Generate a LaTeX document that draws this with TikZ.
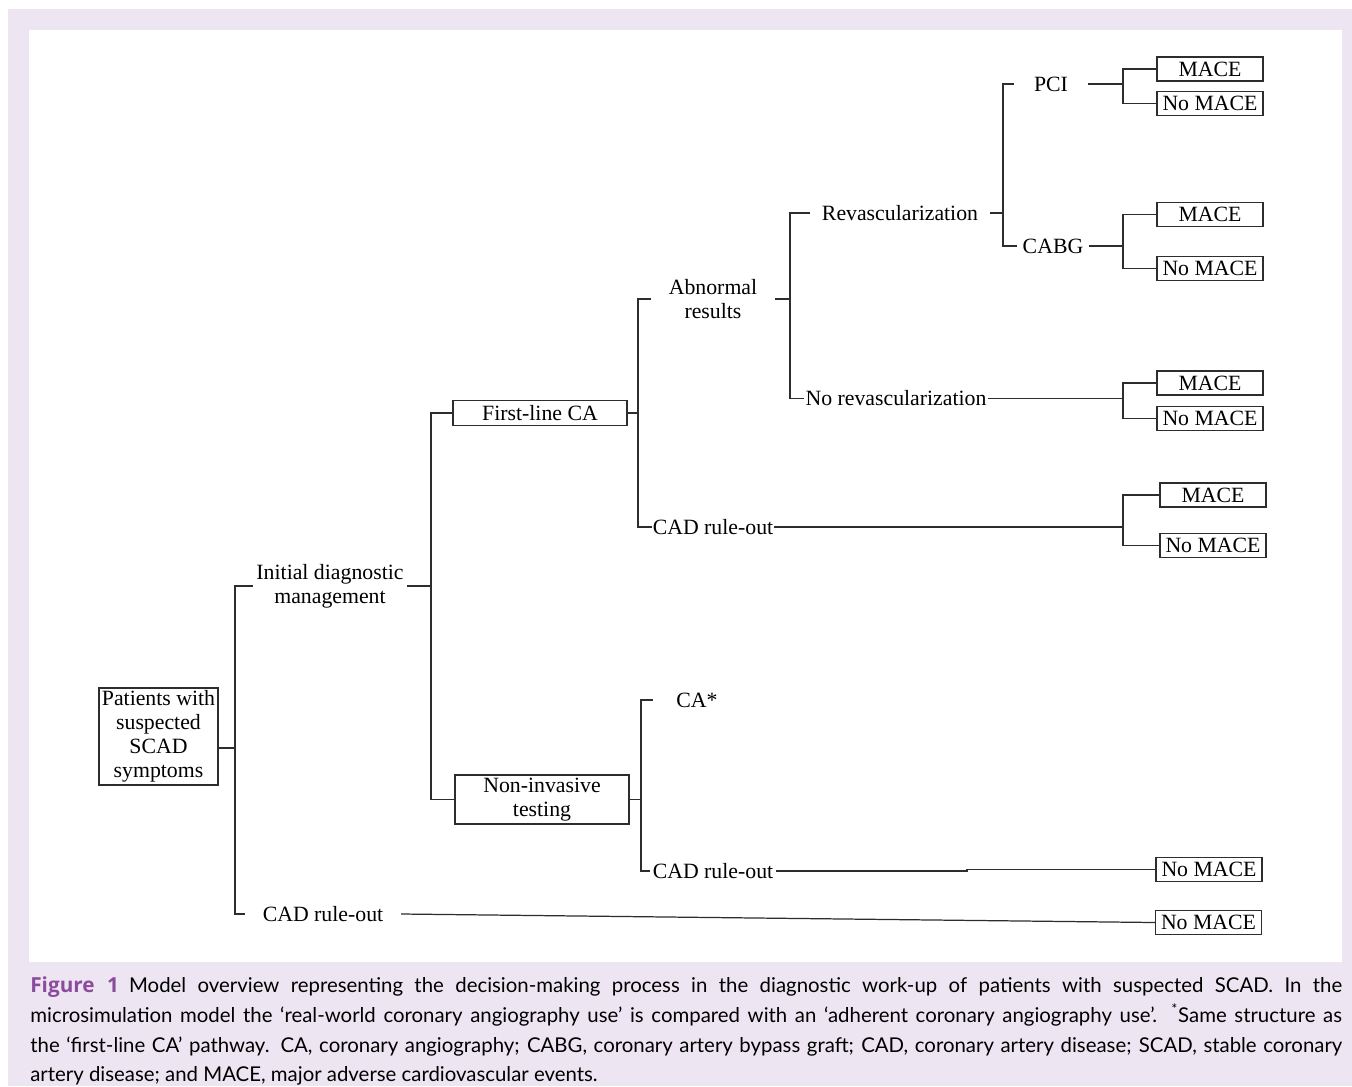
\documentclass[tikz,border=0pt]{standalone}
\usepackage{fontspec}
\setmainfont{Liberation Serif}
\newfontfamily\capfont{Lato}
\newfontfamily\capboldfont{Open Sans}
\definecolor{capbg}{RGB}{237,230,242}
\definecolor{figpurple}{RGB}{139,76,158}
\definecolor{linegray}{RGB}{45,45,45}

\begin{document}
\begin{tikzpicture}[x=0.02cm,y=-0.02cm,
  font=\fontsize{12.4}{13.7}\selectfont,
  link/.style={draw=linegray,line width=0.7pt},
  box/.style={draw=linegray,line width=0.7pt,inner sep=1pt,align=center},
  leaf/.style={box,minimum width=2.12cm,minimum height=0.48cm},
  lbl/.style={inner ysep=1pt,inner xsep=2pt,align=center},
  capline/.style={anchor=base west,inner sep=0pt,font=\capfont\fontsize{11.6}{17}\selectfont}]
%frame
\useasboundingbox (0,0) rectangle (1352,1086);
\fill[capbg] (8,9) rectangle (1352,1086);
\fill[white] (29,30) rectangle (1342,962);

%decision nodes
\node[box,minimum width=2.38cm,minimum height=1.94cm] (pat) at (158.5,736.5) {Patients with\\suspected\\SCAD\\symptoms};
\node[lbl] (idm) at (330,586) {Initial diagnostic\\management};
\node[lbl,inner xsep=10pt] (cro1) at (323,914) {CAD rule-out};
\node[box,minimum width=3.48cm,minimum height=0.5cm] (fca) at (540,413) {First-line CA};
\node[box,minimum width=3.48cm,minimum height=0.98cm] (nit) at (542,799.5) {Non-invasive\\testing};
\node[lbl,inner xsep=10pt] (abn) at (713,299) {Abnormal\\results};
\node[lbl,inner xsep=0.5pt] (cro2) at (713,527) {CAD rule-out};
\node[lbl,inner xsep=6.5pt] (rev) at (900,213) {Revascularization};
\node[lbl,inner xsep=0.5pt] (norev) at (896,398.5) {No revascularization};
\node[lbl,inner xsep=11pt] (pci) at (1051,84) {PCI};
\node[lbl,inner xsep=3pt] (cabg) at (1053,246) {CABG};
\node[lbl,inner xsep=13pt] (ca) at (697,700) {CA*};
\node[lbl,inner xsep=1.5pt] (cro3) at (713,871) {CAD rule-out};

%outcomes
\node[leaf] (m1) at (1210,69) {MACE};
\node[leaf] (n1) at (1210,103.5) {No MACE};
\node[leaf] (m2) at (1210,214.5) {MACE};
\node[leaf] (n2) at (1210,268.5) {No MACE};
\node[leaf] (m3) at (1210,383) {MACE};
\node[leaf] (n3) at (1210,418.5) {No MACE};
\node[leaf] (m4) at (1213,495) {MACE};
\node[leaf] (n4) at (1213,545.5) {No MACE};
\node[leaf] (n5) at (1209,869.5) {No MACE};
\node[leaf] (n6) at (1208.5,922.5) {No MACE};

%junctions
\coordinate (j1) at (235,748);
\coordinate (j2) at (431,586);
\coordinate (j3) at (638,413);
\coordinate (j4) at (790,299);
\coordinate (j5) at (1003,213);
\coordinate (j6) at (1123,84);
\coordinate (j7) at (1123,246);
\coordinate (j8) at (1123,398.5);
\coordinate (j9) at (1123,527);
\coordinate (j10) at (641,799.5);
\coordinate (k1) at (967,871);

%branches
\draw[link] (pat.east |- j1) -- (j1);
\draw[link] (idm.west) -| (j1) |- (cro1.west);
\draw[link] (idm.east) -- (j2);
\draw[link] (fca.west) -| (j2) |- (nit.west);
\draw[link] (fca.east) -- (j3);
\draw[link] (abn.west) -| (j3) |- (cro2.west);
\draw[link] (abn.east) -- (j4);
\draw[link] (rev.west) -| (j4) |- (norev.west);
\draw[link] (rev.east) -- (j5);
\draw[link] (pci.west) -| (j5) |- (cabg.west);
\draw[link] (pci.east) -- (j6);
\draw[link] (m1.west) -| (j6) |- (n1.west);
\draw[link] (cabg.east) -- (j7);
\draw[link] (m2.west) -| (j7) |- (n2.west);
\draw[link] (norev.east) -- (j8);
\draw[link] (m3.west) -| (j8) |- (n3.west);
\draw[link] (cro2.east) -- (j9);
\draw[link] (m4.west) -| (j9) |- (n4.west);
\draw[link] (nit.east) -- (j10);
\draw[link] (ca.west) -| (j10) |- (cro3.west);
\draw[link] (cro3.east) -- (k1) |- (n5.west);
\draw[link] (cro1.east) -- (n6.west);

%caption
\node[capline] (cap1) at (30,992) {\makebox[26.24cm][s]{{\capboldfont\bfseries\fontsize{11.8}{17}\selectfont\color{figpurple}Figure\hspace{0.6em}1}\enspace Model overview representing the decision-making process in the diagnostic work-up of patients with suspected SCAD. In the}};
\node[capline] (cap2) at (30,1022) {\makebox[26.24cm][s]{microsimulation model the ‘real-world coronary angiography use’ is compared with an ‘adherent coronary angiography use’. \textsuperscript{*}Same structure as}};
\node[capline] (cap3) at (30,1052) {\makebox[26.24cm][s]{the ‘first-line CA’ pathway. CA, coronary angiography; CABG, coronary artery bypass graft; CAD, coronary artery disease; SCAD, stable coronary}};
\node[capline] (cap4) at (30,1081) {artery disease; and MACE, major adverse cardiovascular events.};
\end{tikzpicture}
\end{document}
